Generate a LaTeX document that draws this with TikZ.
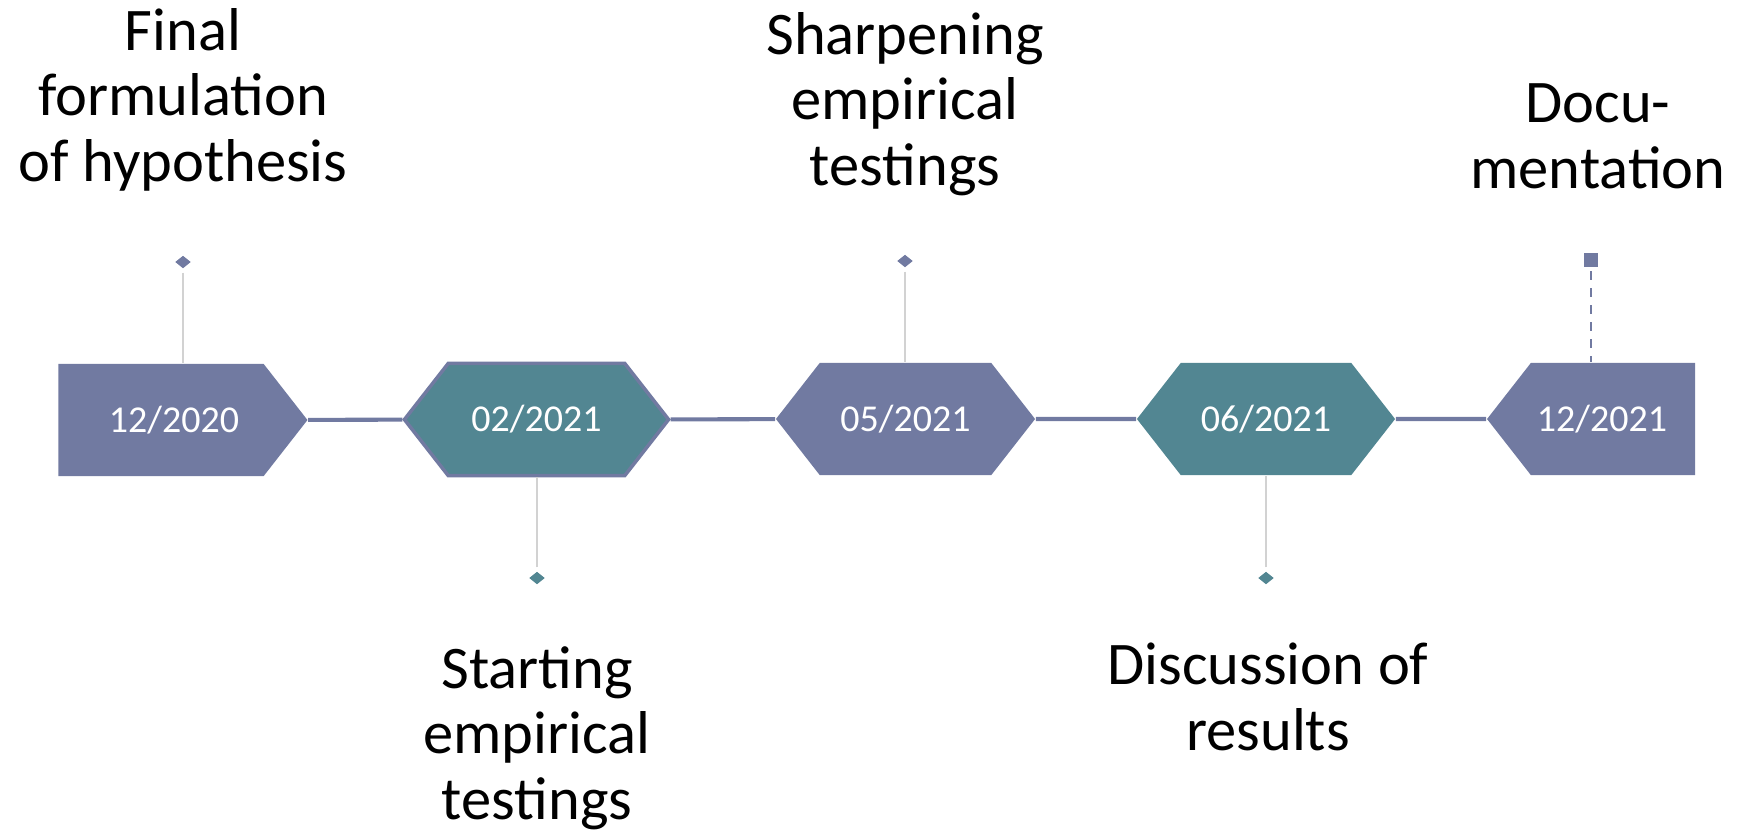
\documentclass[tikz,border=0pt]{standalone}
\usepackage{fontspec}
\setmainfont{Carlito}
\usetikzlibrary{shapes.symbols,shapes.geometric}

\definecolor{slate}{RGB}{113,122,161}
\definecolor{petrol}{RGB}{82,134,146}
\definecolor{stemgray}{RGB}{210,210,210}

\tikzset{
  date/.style={shape=signal, signal pointer angle=104, fill=slate, text=white,
    inner sep=0pt, minimum height=1.12cm, font=\fontsize{10.8}{12}\selectfont},
  event/.style={align=center, inner sep=0pt, anchor=base, font=\fontsize{17.2}{18.5}\selectfont},
  knob/.style={shape=diamond, inner sep=0pt, minimum width=0.16cm, minimum height=0.13cm},
  stem/.style={draw=stemgray, line width=0.45pt, shorten <=1pt},
  track/.style={draw=slate, line width=1.15pt},
}

\begin{document}
\begin{tikzpicture}[x=0.01cm, y=-0.01cm]
\useasboundingbox (0,0) rectangle (1739,832);

% milestones on the time line
\node[date, signal to=east, minimum width=2.49cm] (d1) at (161,420) {\hspace*{0.26cm}12/2020};
\node[date, signal to=east and west, fill=petrol, draw=slate, line width=1pt,
      minimum width=2.64cm] (d2) at (536.5,419.5) {02/2021};
\node[date, signal to=east and west, minimum width=2.59cm] (d3) at (905.5,419) {05/2021};
\node[date, signal to=east and west, fill=petrol, minimum width=2.58cm] (d4) at (1266,419) {06/2021};
\node[date, signal to=west, minimum width=2.08cm] (d5) at (1613,419) {12/2021\hspace*{0.22cm}};

\draw[track] (d1) -- (d2);
\draw[track] (d2) -- (d3);
\draw[track] (d3) -- (d4);
\draw[track] (d4) -- (d5);

% markers above and below
\node[knob, fill=slate] (k1) at (183,262) {};
\node[knob, fill=petrol] (k2) at (537,578) {};
\node[knob, fill=slate] (k3) at (905,261) {};
\node[knob, fill=petrol] (k4) at (1266,578) {};
\node[fill=slate, inner sep=0pt, minimum size=0.14cm] (k5) at (1591,260) {};

\draw[stem] (k1) -- (k1 |- d1.north);
\draw[stem] (k2) -- (k2 |- d2.south);
\draw[stem] (k3) -- (k3 |- d3.north);
\draw[stem] (k4) -- (k4 |- d4.south);
\draw[slate, line width=0.75pt, dash pattern=on 0.09cm off 0.08cm, shorten <=1pt] (k5) -- (k5 |- d5.north);

% what happens at each step (placed on the last baseline)
\node[event] (e1) at (183,181) {Final\\formulation\\of hypothesis};
\node[event] (e3) at (905,185) {Sharpening\\empirical\\testings};
\node[event] (e5) at (1598,188) {Docu-\\mentation};
\node[event] (e2) at (537,819) {Starting\\empirical\\testings};
\node[event] (e4) at (1268,750) {Discussion of\\results};
\end{tikzpicture}
\end{document}
